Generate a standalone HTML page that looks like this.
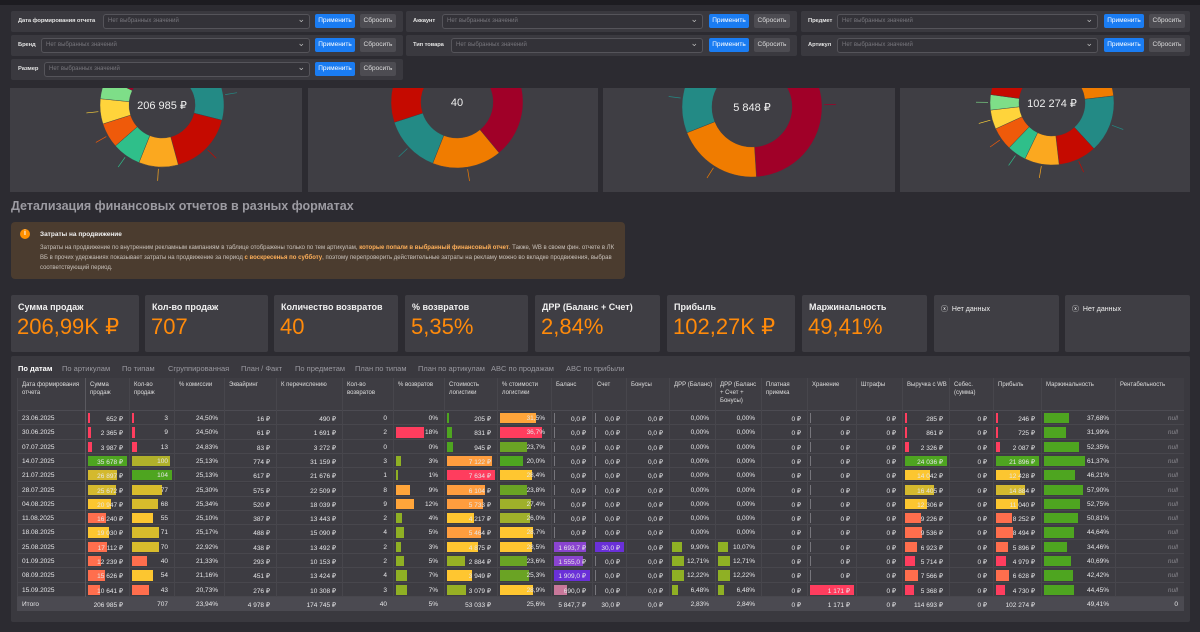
<!DOCTYPE html>
<html><head><meta charset="utf-8">
<style>
*{box-sizing:border-box;margin:0;padding:0}
body{width:1200px;height:632px;overflow:hidden;background:#2c2b31;font-family:"Liberation Sans","Noto Sans CJK SC",sans-serif;color:#e8e8ea;position:relative}
.abs{position:absolute}
.fpanel{position:absolute;background:#3a393f;border-radius:2px;height:21px}
.flabel{position:absolute;top:7px;font-size:5.8px;font-weight:bold;color:#e0e0e0;white-space:nowrap;letter-spacing:-0.1px}
.fsel{position:absolute;top:3px;height:15px;border:1px solid #55545a;border-radius:3px;background:#333238;font-size:6px;color:#77767c;padding:3px 4px;white-space:nowrap}
.fsel:after{content:"⌄";position:absolute;right:4px;top:-1px;color:#bbb;font-size:9px}
.btn-a{position:absolute;top:3px;height:14px;width:40px;background:#1a7cf2;border-radius:2px;font-size:6.5px;color:#fff;text-align:center;line-height:14px}
.btn-r{position:absolute;top:3px;height:14px;width:36px;background:#4d4c52;border-radius:2px;font-size:6.5px;color:#ddd;text-align:center;line-height:14px}
.dpanel{position:absolute;top:80px;height:112px;background:#3f3e44;overflow:hidden}
.kpi{position:absolute;top:295px;height:57px;background:#3f3e44;border-radius:2px}
.kl{position:absolute;left:7px;top:7px;font-size:9px;font-weight:bold;color:#f0f0f0;white-space:nowrap}
.kv{position:absolute;left:6px;top:19px;font-size:22px;color:#ff8a0a;white-space:nowrap}
.tab{position:absolute;top:364px;font-size:7.5px;color:#9a99a0;white-space:nowrap}
.cell{position:absolute;font-size:6.5px;color:#e6e6e8;white-space:nowrap;overflow:hidden}
</style></head><body>
<div class="abs" style="left:0;top:0;width:1200px;height:5px;background:#1d1c21"></div>

<!-- filters -->
<div class="fpanel" style="left:11px;top:11px;width:392px"><span class="flabel" style="left:7px">Дата формирования отчета</span><div class="fsel" style="left:92px;width:207px">Нет выбранных значений</div><div class="btn-a" style="left:304px">Применить</div><div class="btn-r" style="left:349px">Сбросить</div></div>
<div class="fpanel" style="left:406px;top:11px;width:391px"><span class="flabel" style="left:7px">Аккаунт</span><div class="fsel" style="left:36px;width:261px">Нет выбранных значений</div><div class="btn-a" style="left:303px">Применить</div><div class="btn-r" style="left:348px">Сбросить</div></div>
<div class="fpanel" style="left:801px;top:11px;width:389px"><span class="flabel" style="left:7px">Предмет</span><div class="fsel" style="left:36px;width:261px">Нет выбранных значений</div><div class="btn-a" style="left:303px">Применить</div><div class="btn-r" style="left:348px">Сбросить</div></div>
<div class="fpanel" style="left:11px;top:35px;width:392px"><span class="flabel" style="left:7px">Бренд</span><div class="fsel" style="left:30px;width:269px">Нет выбранных значений</div><div class="btn-a" style="left:304px">Применить</div><div class="btn-r" style="left:349px">Сбросить</div></div>
<div class="fpanel" style="left:406px;top:35px;width:391px"><span class="flabel" style="left:7px">Тип товара</span><div class="fsel" style="left:45px;width:252px">Нет выбранных значений</div><div class="btn-a" style="left:303px">Применить</div><div class="btn-r" style="left:348px">Сбросить</div></div>
<div class="fpanel" style="left:801px;top:35px;width:389px"><span class="flabel" style="left:7px">Артикул</span><div class="fsel" style="left:36px;width:261px">Нет выбранных значений</div><div class="btn-a" style="left:303px">Применить</div><div class="btn-r" style="left:348px">Сбросить</div></div>
<div class="fpanel" style="left:11px;top:59px;width:392px"><span class="flabel" style="left:7px">Размер</span><div class="fsel" style="left:33px;width:266px">Нет выбранных значений</div><div class="btn-a" style="left:304px">Применить</div><div class="btn-r" style="left:349px">Сбросить</div></div>

<!-- donut panels -->
<div id="donuts"></div>
<div class="abs" style="left:0;top:80px;width:1200px;height:8px;background:#2c2b31"></div>

<div class="abs" style="left:11px;top:199px;font-size:12.5px;font-weight:bold;color:#9c9ba2">Детализация финансовых отчетов в разных форматах</div>

<div class="abs" style="left:11px;top:222px;width:614px;height:57px;background:#4b3c2f;border-radius:4px">
 <div class="abs" style="left:9px;top:7px;width:10px;height:10px;border-radius:50%;background:#ff9000;color:#fff;font-size:7px;text-align:center;line-height:10px;font-weight:bold">i</div>
 <div class="abs" style="left:29px;top:9px;font-size:6.5px;font-weight:bold;color:#f0f0f0">Затраты на продвижение</div>
 <div class="abs" style="left:29px;top:21px;width:580px;font-size:6px;line-height:10px;color:#c9c2bb">Затраты на продвижение по внутренним рекламным кампаниям в таблице отображены только по тем артикулам, <b style="color:#ffb05a">которые попали в выбранный финансовый отчет</b>. Также, WB в своем фин. отчете в ЛК ВБ в прочих удержаниях показывает затраты на продвижение за период <b style="color:#ffb05a">с воскресенья по субботу</b>, поэтому перепроверить действительные затраты на рекламу можно во вкладке продвижения, выбрав соответствующий период.</div>
</div>

<!-- KPIs -->
<div class="kpi" style="left:11px;width:128px"><div class="kl">Сумма продаж</div><div class="kv">206,99K ₽</div></div>
<div class="kpi" style="left:145px;width:123px"><div class="kl">Кол-во продаж</div><div class="kv">707</div></div>
<div class="kpi" style="left:274px;width:124px"><div class="kl">Количество возвратов</div><div class="kv">40</div></div>
<div class="kpi" style="left:405px;width:123px"><div class="kl">% возвратов</div><div class="kv">5,35%</div></div>
<div class="kpi" style="left:535px;width:125px"><div class="kl">ДРР (Баланс + Счет)</div><div class="kv">2,84%</div></div>
<div class="kpi" style="left:667px;width:128px"><div class="kl">Прибыль</div><div class="kv">102,27K ₽</div></div>
<div class="kpi" style="left:802px;width:125px"><div class="kl">Маржинальность</div><div class="kv">49,41%</div></div>
<div class="kpi" style="left:934px;width:125px"><div class="kl" style="font-weight:normal;font-size:7px;top:9px">ⓧ&nbsp; Нет данных</div></div>
<div class="kpi" style="left:1065px;width:125px"><div class="kl" style="font-weight:normal;font-size:7px;top:9px">ⓧ&nbsp; Нет данных</div></div>

<!-- table panel -->
<div class="abs" style="left:11px;top:356px;width:1179px;height:266px;background:#3a393f;border-radius:2px"></div>
<div class="tab" style="left:18px;color:#fff;font-weight:bold">По датам</div>
<div class="tab" style="left:62px">По артикулам</div>
<div class="tab" style="left:122px">По типам</div>
<div class="tab" style="left:168px">Сгруппированная</div>
<div class="tab" style="left:241px">План / Факт</div>
<div class="tab" style="left:295px">По предметам</div>
<div class="tab" style="left:355px">План по типам</div>
<div class="tab" style="left:418px">План по артикулам</div>
<div class="tab" style="left:491px">ABC по продажам</div>
<div class="tab" style="left:566px">ABC по прибыли</div>
<div id="table"></div>

<script>
// ---- donut data ----
const donut1Values=[8,6,14,18,11,8,7,7,6,6,7,9];
const donut1Colors=['#a00028','#f07c00','#238a85','#c50a00','#fba81f','#2fbf8a','#ef5a0a','#ffd43b','#7ede88','#a00028','#f07c00','#2a8a85'];
const donut2Values=[39,17,14,19,11];
const donut2Colors=['#a00028','#f07c00','#238a85','#c50a00','#f07c00'];
const donut3Values=[49,20,16,15];
const donut3Colors=['#a00028','#f07c00','#238a85','#c50a00'];
const donut4Values=[6,13,15,10,9,5,6,5,4,8,9,10];
const donut4Colors=['#a00028','#f07c00','#238a85','#c50a00','#fba81f','#2fbf8a','#ef5a0a','#ffd43b','#7ede88','#c50a00','#a00028','#a00028'];
const donutCenters=['206 985 ₽','40','5 848 ₽','102 274 ₽'];
const donutStart=[10,0,0,15];

const NS='http://www.w3.org/2000/svg';
const panels=[[10,292,152,25,62,33],[308,290,149,22,66,36],[603,292,149,27,70,40],[900,290,152,23,62,33]];
const allV=[donut1Values,donut2Values,donut3Values,donut4Values];
const allC=[donut1Colors,donut2Colors,donut3Colors,donut4Colors];
const dc=document.getElementById('donuts');
panels.forEach((p,i)=>{
  const d=document.createElement('div');d.className='dpanel';d.style.left=p[0]+'px';d.style.width=p[1]+'px';
  
  
  const s=document.createElementNS(NS,'svg');s.setAttribute('width',p[1]);s.setAttribute('height',112);
  const vals=allV[i],tot=vals.reduce((a,b)=>a+b,0);let a=donutStart[i];
  const cx=p[2],cy=p[3],R=p[4],r=p[5];
  const pt=(ang,rad)=>{const t=(ang-90)*Math.PI/180;return [cx+rad*Math.cos(t),cy+rad*Math.sin(t)];};
  vals.forEach((v,k)=>{
    const a2=a+v/tot*360;const lg=(a2-a)>180?1:0;
    const [x1,y1]=pt(a,R),[x2,y2]=pt(a2,R),[x3,y3]=pt(a2,r),[x4,y4]=pt(a,r);
    const path=document.createElementNS(NS,'path');
    path.setAttribute('d',`M${x1},${y1}A${R},${R} 0 ${lg} 1 ${x2},${y2}L${x3},${y3}A${r},${r} 0 ${lg} 0 ${x4},${y4}Z`);
    path.setAttribute('fill',allC[i][k]);path.setAttribute('stroke','#3f3e44');path.setAttribute('stroke-width','0.4');
    
    
    s.appendChild(path);
    const mid=(a+a2)/2;const [lx1,ly1]=pt(mid,R+2),[lx2,ly2]=pt(mid,R+14);
    const ln=document.createElementNS(NS,'line');ln.setAttribute('x1',lx1);ln.setAttribute('y1',ly1);ln.setAttribute('x2',lx2);ln.setAttribute('y2',ly2);ln.setAttribute('stroke',allC[i][k]);ln.setAttribute('stroke-width','0.7');
    
    
    s.appendChild(ln);
    a=a2;
  });
  const t=document.createElementNS(NS,'text');t.setAttribute('x',cx);t.setAttribute('y',cy+4);t.setAttribute('text-anchor','middle');t.setAttribute('fill','#eee');t.setAttribute('font-size','11');t.setAttribute('font-family','Liberation Sans, sans-serif');t.textContent=donutCenters[i];
  
  
  s.appendChild(t);
  d.appendChild(s);dc.appendChild(d);
});

// ---- table data ----
const headers=['Дата формирования отчета','Сумма продаж','Кол-во продаж','% комиссии','Эквайринг','К перечислению','Кол-во возвратов','% возвратов','Стоимость логистики','% стоимости логистики','Баланс','Счет','Бонусы','ДРР (Баланс)','ДРР (Баланс + Счет + Бонусы)','Платная приемка','Хранение','Штрафы','Выручка с WB','Себес. (сумма)','Прибыль','Маржинальность','Рентабельность'];
const dates=['23.06.2025','30.06.2025','07.07.2025','14.07.2025','21.07.2025','28.07.2025','04.08.2025','11.08.2025','18.08.2025','25.08.2025','01.09.2025','08.09.2025','15.09.2025'];
const sales=[652,2365,3987,35678,26897,25672,20947,16240,19030,17112,12239,15626,10641];
const qty=[3,9,13,100,104,77,68,55,71,70,40,54,43];
const commission=[24.50,24.50,24.83,25.13,25.13,25.30,25.34,25.10,25.17,22.92,21.33,21.16,20.73];
const acquiring=[16,61,83,774,617,575,520,387,488,438,293,451,276];
const transfer=[490,1691,3272,31159,21676,22509,18039,13443,15090,13492,10153,13424,10308];
const returnsQty=[0,2,0,3,1,8,9,2,4,2,2,4,3];
const returnsPct=[0,18,0,3,1,9,12,4,5,3,5,7,7];
const logistics=[205,831,945,7122,7634,6104,5733,4217,5464,4875,2884,3949,3079];
const logisticsPct=[31.5,36.7,23.7,20.0,28.4,23.8,27.4,26.0,28.7,28.5,23.6,25.3,28.9];
const balance=[0,0,0,0,0,0,0,0,0,1693.7,1555.0,1909.0,690.0];
const account=[0,0,0,0,0,0,0,0,0,30.0,0,0,0];
const bonuses=[0,0,0,0,0,0,0,0,0,0,0,0,0];
const drrBalance=[0,0,0,0,0,0,0,0,0,9.90,12.71,12.22,6.48];
const drrAll=[0,0,0,0,0,0,0,0,0,10.07,12.71,12.22,6.48];
const paidAcceptance=[0,0,0,0,0,0,0,0,0,0,0,0,0];
const storage=[0,0,0,0,0,0,0,0,0,0,0,0,1171];
const fines=[0,0,0,0,0,0,0,0,0,0,0,0,0];
const revenue=[285,861,2326,24036,14042,16405,12306,9226,9536,6923,5714,7566,5368];
const costSum=[0,0,0,0,0,0,0,0,0,0,0,0,0];
const profit=[246,725,2087,21896,12428,14884,11040,8252,8494,5896,4979,6628,4730];
const margin=[37.68,31.99,52.35,61.37,46.21,57.90,52.75,50.81,44.64,34.46,40.69,42.42,44.45];
const totals=['Итого','206 985 ₽','707','23,94%','4 978 ₽','174 745 ₽','40','5%','53 033 ₽','25,6%','5 847,7 ₽','30,0 ₽','0,0 ₽','2,83%','2,84%','0 ₽','1 171 ₽','0 ₽','114 693 ₽','0 ₽','102 274 ₽','49,41%','0'];

const cols=[17,85,129,174,224,276,342,393,444,497,551,592,626,669,715,761,807,856,902,949,993,1041,1115,1184];
const T=document.getElementById('table');
const HT=378,RT=411,RH=14.3;
function fmtInt(v){return String(Math.round(v)).replace(/\B(?=(\d{3})+(?!\d))/g,' ');}
function fmtDec(v,d){return v.toFixed(d).replace('.',',').replace(/\B(?=(\d{3})+(?!\d))/g,' ');}
function mk(cls,name,inter,style,txt){const e=document.createElement('div');e.className=cls;e.setAttribute('style',style);if(txt!==undefined)e.textContent=txt;
  
  
  T.appendChild(e);return e;}
mk('abs','table-header','false',`left:17px;top:${HT}px;width:1167px;height:${RT-HT}px;background:#3e3d43;border-bottom:1px solid #4c4b52`);
headers.forEach((h,i)=>{
  mk('cell','column-header','true',`left:${cols[i]+5}px;top:${HT+3}px;width:${cols[i+1]-cols[i]-7}px;white-space:normal;line-height:8px;font-size:6px;color:#ddd`,h);
});
function salesColor(r){if(r>0.95)return '#4ea520';if(r>0.65)return '#d4b92e';if(r>=0.5)return '#fcc630';if(r>0.25)return '#ff6e4d';return '#ff3d5e';}
function qtyColor(r){if(r>0.99)return '#4ea520';if(r>0.9)return '#b0b02a';if(r>0.6)return '#d8bc2c';if(r>=0.5)return '#fcc630';if(r>0.3)return '#ff6e4d';return '#ff3d5e';}
function logiColor(r){if(r>0.97)return '#ff3d5e';if(r>0.68)return '#ff9d3e';if(r>0.5)return '#ffc630';if(r>0.35)return '#97b024';return '#4ea520';}
function logiPctColor(v){if(v>33)return '#ff3d5e';if(v>29)return '#ffa53a';if(v>28)return '#ffc630';if(v>25.9)return '#9fb02a';if(v>21)return '#6aa324';return '#4ea520';}
function retColor(v){if(v>15)return '#ff3d5e';if(v>8)return '#ffa53a';return '#8fb024';}
function balColor(v){if(v<1000)return '#c8789a';if(v>1800)return '#6a30d8';return '#8a44d0';}

const colData=[
 {vals:dates,fmt:v=>v,left:true},
 {vals:sales,fmt:v=>fmtInt(v)+' ₽',bar:sales,color:(v,r)=>salesColor(r)},
 {vals:qty,fmt:v=>String(v),bar:qty,color:(v,r)=>qtyColor(r)},
 {vals:commission,fmt:v=>fmtDec(v,2)+'%'},
 {vals:acquiring,fmt:v=>fmtInt(v)+' ₽'},
 {vals:transfer,fmt:v=>fmtInt(v)+' ₽'},
 {vals:returnsQty,fmt:v=>String(v)},
 {vals:returnsPct,fmt:v=>v+'%',bar:returnsPct,color:v=>retColor(v),maxW:0.6},
 {vals:logistics,fmt:v=>fmtInt(v)+' ₽',bar:logistics,color:(v,r)=>logiColor(r)},
 {vals:logisticsPct,fmt:v=>fmtDec(v,1)+'%',bar:logisticsPct,color:v=>logiPctColor(v),maxW:0.85},
 {vals:balance,fmt:v=>fmtDec(v,1)+' ₽',bar:balance,color:v=>balColor(v),tick:true},
 {vals:account,fmt:v=>fmtDec(v,1)+' ₽',bar:account,color:()=>'#6a30d8',tick:true},
 {vals:bonuses,fmt:v=>fmtDec(v,1)+' ₽'},
 {vals:drrBalance,fmt:v=>fmtDec(v,2)+'%',bar:drrBalance,color:()=>'#8fb024',maxW:0.3},
 {vals:drrAll,fmt:v=>fmtDec(v,2)+'%',bar:drrAll,color:()=>'#8fb024',maxW:0.3},
 {vals:paidAcceptance,fmt:v=>fmtInt(v)+' ₽'},
 {vals:storage,fmt:v=>fmtInt(v)+' ₽',bar:storage,color:()=>'#ff3d5e',tick:true},
 {vals:fines,fmt:v=>fmtInt(v)+' ₽'},
 {vals:revenue,fmt:v=>fmtInt(v)+' ₽',bar:revenue,color:(v,r)=>salesColor(r)},
 {vals:costSum,fmt:v=>fmtInt(v)+' ₽'},
 {vals:profit,fmt:v=>fmtInt(v)+' ₽',bar:profit,color:(v,r)=>salesColor(r)},
 {vals:margin,fmt:v=>fmtDec(v,2)+'%',bar:margin,color:()=>'#4ea520',maxW:0.6},
 {vals:dates,fmt:()=> 'null',nul:true}
];
for(let r=0;r<13;r++){
  const y=RT+r*RH;
  mk('abs','table-row','false',`left:17px;top:${y}px;width:1167px;height:${RH}px;background:#3d3c42;border-bottom:1px solid #48474d`);
}
colData.forEach((c,ci)=>{
  const x0=cols[ci],w=cols[ci+1]-cols[ci];
  mk('abs','column-divider','false',`left:${x0}px;top:${HT}px;width:1px;height:${RT-HT+14*RH}px;background:${ci===1?'#5a595f':'#47464c'}`);
  const mx=c.bar?Math.max(...c.bar):0;
  for(let r=0;r<13;r++){
    const y=RT+r*RH;
    const v=c.vals[r];
    if(c.bar){
      const maxW=(w-5)*(c.maxW||1);
      if(v===0){
        if(c.tick) mk('abs','bar-zero-tick','false',`left:${x0+3}px;top:${y+2}px;width:1px;height:${RH-4}px;background:#77767c`);
      } else if(mx>0){
        const rr=v/mx;const bw=Math.max(1.5,rr*maxW);
        mk('abs','cell-bar','false',`left:${x0+3}px;top:${y+2}px;width:${bw}px;height:${RH-4}px;background:${c.color(v,rr)}`);
      }
    }
    if(c.left){
      mk('cell','date-cell','false',`left:${x0+5}px;top:${y+4}px`,c.fmt(v));
    } else {
      mk('cell','table-cell','false',`left:${x0}px;width:${w-6}px;text-align:right;top:${y+4}px;${c.nul?'color:#8a898f;font-style:italic':''}`,c.fmt(v));
    }
  }
});
const ty=RT+13*RH;
mk('abs','totals-row','false',`left:17px;top:${ty}px;width:1167px;height:${RH}px;background:#4b4a51`);
totals.forEach((t,i)=>{
  const x0=cols[i],w=cols[i+1]-cols[i];
  if(i===0)mk('cell','totals-label','false',`left:${x0+5}px;top:${ty+4}px`,t);
  else mk('cell','totals-cell','false',`left:${x0}px;width:${w-6}px;text-align:right;top:${ty+4}px`,t);
});
</script>
</body></html>
